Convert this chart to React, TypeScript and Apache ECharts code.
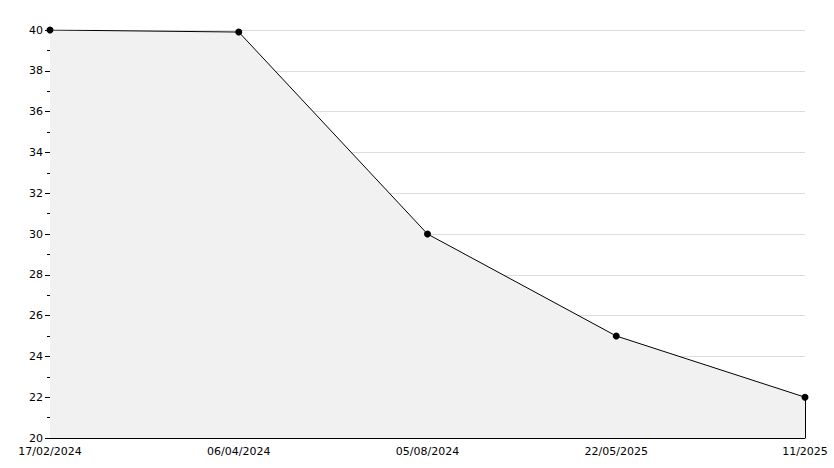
import React, { useEffect, useRef } from "react";
import * as echarts from "echarts";

const categories = ["17/02/2024", "06/04/2024", "05/08/2024", "22/05/2025", "11/2025"];
const values = [40, 39.9, 30, 25, 22];
const yMin = 20;
const yMax = 40;
const yInterval = 2;

export default function App() {
  const ref = useRef<HTMLDivElement>(null);
  useEffect(() => {
    if (!ref.current) return;
    const chart = echarts.init(ref.current, null, { renderer: "svg" });
    const lastCat = categories[categories.length - 1];
    const lastVal = values[values.length - 1];
    chart.setOption({
      animation: false,
      backgroundColor: "#ffffff",
      textStyle: { fontFamily: "DejaVu Sans", fontSize: 11, color: "#000" },
      grid: { left: 50, right: 29, top: 30, bottom: 30, containLabel: false },
      xAxis: {
        type: "category",
        data: categories,
        boundaryGap: false,
        axisLine: { lineStyle: { color: "#000", width: 1 } },
        axisTick: { show: true, inside: true, length: 6, interval: 0, lineStyle: { color: "#000", width: 1 } },
        axisLabel: { color: "#000", fontSize: 11, fontFamily: "DejaVu Sans", margin: 8, showMinLabel: true, showMaxLabel: true, interval: 0 },
        splitLine: { show: false },
      },
      yAxis: {
        type: "value",
        min: yMin,
        max: yMax,
        interval: yInterval,
        axisLine: { show: true, lineStyle: { color: "#000", width: 1 } },
        axisTick: { show: true, length: 5, lineStyle: { color: "#000", width: 1 } },
        minorTick: { show: true, splitNumber: 2, length: 3, lineStyle: { color: "#000", width: 1 } },
        axisLabel: { color: "#000", fontSize: 11, fontFamily: "DejaVu Sans", margin: 7 },
        splitLine: { show: true, lineStyle: { color: "#dddddd", width: 1 } },
      },
      series: [
        {
          type: "line",
          data: values,
          lineStyle: { color: "#000", width: 1 },
          areaStyle: { color: "#f1f1f1", opacity: 1, origin: "start" },
          symbol: "circle",
          symbolSize: 7,
          itemStyle: { color: "#000" },
          z: 3,
          markLine: {
            silent: true,
            symbol: "none",
            label: { show: false },
            lineStyle: { color: "#000", width: 1, type: "solid" },
            data: [[{ coord: [lastCat, lastVal] }, { coord: [lastCat, yMin] }]],
          },
        },
      ],
    });
    return () => chart.dispose();
  }, []);
  return <div ref={ref} style={{ width: 834, height: 468, position: "absolute", left: 0, top: 0 }} />;
}
